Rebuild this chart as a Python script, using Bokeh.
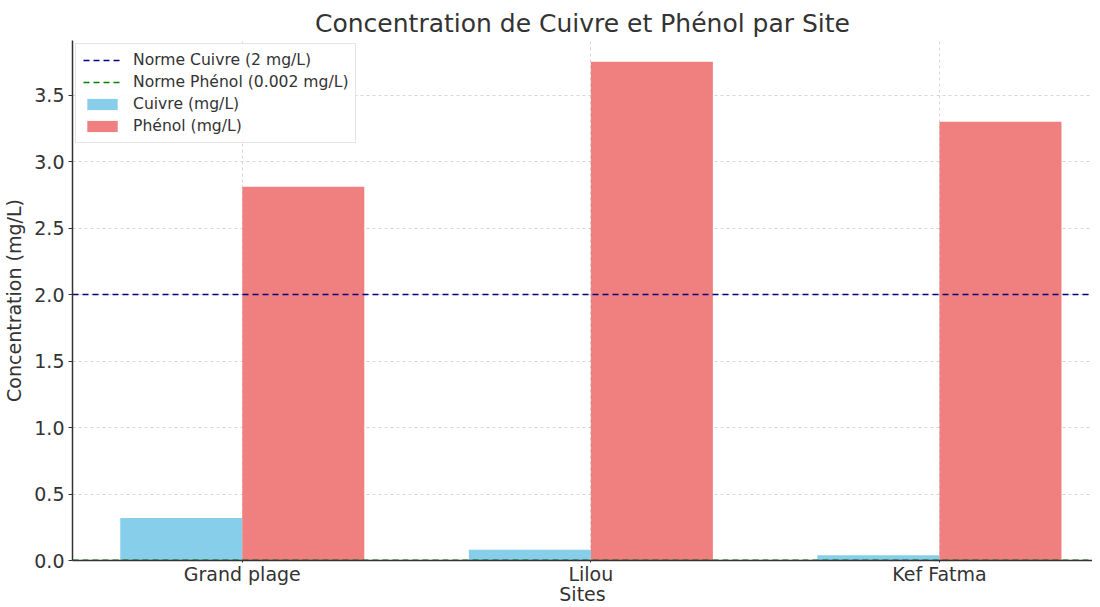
from bokeh.plotting import figure
from bokeh.models import Range1d, FixedTicker, Legend, LegendItem
from bokeh.embed import file_html
from bokeh.resources import INLINE

sites = ["Grand plage", "Lilou", "Kef Fatma"]
cuivre = [0.32, 0.08, 0.04]
phenol = [2.81, 3.75, 3.30]
norme_cuivre = 2.0
norme_phenol = 0.002

FONT = "DejaVu Sans"
bw = 0.35
xs = list(range(len(sites)))
xr = Range1d(-0.487, 2.439)

p = figure(width=1092, height=607, output_backend="svg", toolbar_location=None,
           x_range=xr, y_range=Range1d(0, 3.91),
           min_border_left=71, min_border_right=0, min_border_top=40, min_border_bottom=0)
p.outline_line_color = None
p.background_fill_color = "white"

p.title.text = "Concentration de Cuivre et Phénol par Site"
p.title.text_font = FONT
p.title.text_font_size = "25px"
p.title.text_font_style = "normal"
p.title.text_color = "#333333"
p.title.align = "center"
p.title.offset = 4
p.title.standoff = 6

r_cu = p.vbar(x=[x - bw / 2 for x in xs], top=cuivre, width=bw, bottom=0,
              fill_color="#87CEEB", line_color=None)
r_ph = p.vbar(x=[x + bw / 2 for x in xs], top=phenol, width=bw, bottom=0,
              fill_color="#F08080", line_color=None)

l_cu = p.line(x=[xr.start, xr.end], y=[norme_cuivre] * 2, line_color="navy",
              line_dash="6 4", line_width=1.6)
l_ph = p.line(x=[xr.start, xr.end], y=[norme_phenol] * 2, line_color="green",
              line_dash="6 4", line_width=1.6)

legend = Legend(items=[
    LegendItem(label="Norme Cuivre (2 mg/L)", renderers=[l_cu]),
    LegendItem(label="Norme Phénol (0.002 mg/L)", renderers=[l_ph]),
    LegendItem(label="Cuivre (mg/L)", renderers=[r_cu]),
    LegendItem(label="Phénol (mg/L)", renderers=[r_ph]),
], location="top_left")
legend.label_text_font = FONT
legend.label_text_font_size = "15.6px"
legend.label_text_color = "#333333"
legend.glyph_width = 38
legend.glyph_height = 14
legend.label_height = 18
legend.label_standoff = 12
legend.spacing = 4
legend.padding = 7
legend.margin = 3
legend.border_line_color = "#cccccc"
legend.background_fill_alpha = 0.9
p.add_layout(legend)

p.xaxis.ticker = FixedTicker(ticks=xs)
p.xaxis.major_label_overrides = {i: s for i, s in enumerate(sites)}
p.yaxis.ticker = FixedTicker(ticks=[0, 0.5, 1.0, 1.5, 2.0, 2.5, 3.0, 3.5])
p.yaxis.major_label_overrides = {0: "0.0", 1: "1.0", 2: "2.0", 3: "3.0"}
p.xaxis.axis_label = "Sites"
p.yaxis.axis_label = "Concentration (mg/L)"
for ax in (p.xaxis, p.yaxis):
    ax.axis_label_text_font = FONT
    ax.axis_label_text_font_size = "19px"
    ax.axis_label_text_font_style = "normal"
    ax.axis_label_text_color = "#333333"
    ax.major_label_text_font = FONT
    ax.major_label_text_font_size = "19px"
    ax.major_label_text_color = "#333333"
    ax.axis_line_color = "#333333"
    ax.axis_line_width = 1.5
    ax.major_tick_line_color = "#333333"
    ax.major_tick_out = 4
    ax.major_tick_in = 0
    ax.minor_tick_line_color = None
p.xaxis.major_tick_out = 2
p.xaxis.axis_label_standoff = -5
p.xaxis.major_label_standoff = 0
p.yaxis.axis_label_standoff = 6
p.yaxis.major_label_standoff = 4

p.xgrid.ticker = FixedTicker(ticks=xs)
for g in (p.xgrid, p.ygrid):
    g.grid_line_color = "#cccccc"
    g.grid_line_dash = "3 3"
    g.grid_line_alpha = 0.8

open("out.html", "w").write(file_html(p, INLINE))
